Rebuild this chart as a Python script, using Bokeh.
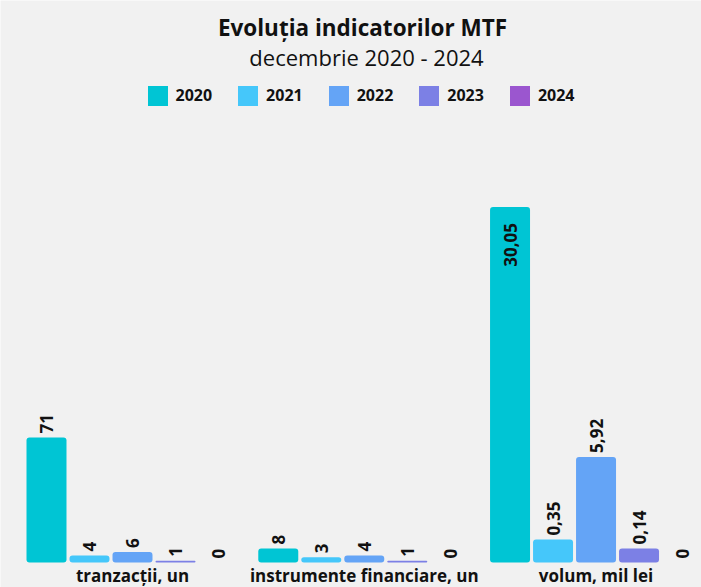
import math
from bokeh.plotting import figure
from bokeh.models import ColumnDataSource, Range1d, Legend, LegendItem, Label
from bokeh.core.properties import value
from bokeh.embed import file_html
from bokeh.resources import INLINE

# ---------------- data ----------------
categories = ["tranzacții, un", "instrumente financiare, un", "volum, mil lei"]
years = ["2020", "2021", "2022", "2023", "2024"]
colors = ["#00C5D4", "#45C7FA", "#64A4F6", "#7C80E5", "#9B56CF"]

# values as labelled on the bars (category order)
values_2020 = [71, 8, 30.05]
values_2021 = [4, 3, 0.35]
values_2022 = [6, 4, 5.92]
values_2023 = [1, 1, 0.14]
values_2024 = [0, 0, 0]

# bar heights as drawn in the picture, on the shared axis
# (the volume bars are not drawn to the same scale as their labels)
heights_2020 = [71, 8, 202]
heights_2021 = [4, 3, 13]
heights_2022 = [6, 4, 60]
heights_2023 = [1, 1, 8]
heights_2024 = [0, 0, 0]

decimal_categories = [False, False, True]

values = [values_2020, values_2021, values_2022, values_2023, values_2024]
heights = [heights_2020, heights_2021, heights_2022, heights_2023, heights_2024]

# ---------------- layout constants ----------------
W, H = 701, 587
slot_px = 43.0
group_gap = 0.39
bar_width = 0.93
x_start = -24.5 / slot_px
px_per_unit = 1.76
baseline_px = 562            # from top of figure
y_end = baseline_px / px_per_unit
y_start = -(H - baseline_px) / px_per_unit
pad = 4 / px_per_unit
inside_pad = 16 / px_per_unit
cat_label_y = -(575 - baseline_px) / px_per_unit

FONT = "Open Sans"
BG = "#f1f1f1"


def fmt(v, dec):
    if v == 0:
        return "0"
    if dec:
        return f"{v:.2f}".replace(".", ",")
    return str(int(v))


def xpos(g, s):
    return g * (5 + group_gap) + s + 0.5


p = figure(width=W, height=H, title=None,
           x_range=Range1d(x_start, x_start + W / slot_px),
           y_range=Range1d(y_start, y_end),
           output_backend="svg", toolbar_location=None,
           x_axis_location=None, y_axis_location=None,
           min_border=0, background_fill_color=BG,
           border_fill_color=BG, outline_line_color=None)
p.grid.visible = False

legend_items = []
lx, ly, lt, la = [], [], [], []
for s, yr in enumerate(years):
    xs = [xpos(g, s) for g in range(len(categories))]
    src = ColumnDataSource(dict(x=xs, top=heights[s]))
    r = p.vbar(x="x", top="top", width=bar_width, source=src,
               fill_color=colors[s], line_color=None, border_radius=3)
    legend_items.append(LegendItem(label=yr, renderers=[r]))
    for g in range(len(categories)):
        h = heights[s][g]
        txt = fmt(values[s][g], decimal_categories[g])
        lx.append(xs[g])
        lt.append(txt)
        if h > 150:
            ly.append(h - inside_pad)
            la.append("right")
        else:
            ly.append(h + pad)
            la.append("left")

lab_src = ColumnDataSource(dict(x=lx, y=ly, text=lt, align=la))
p.text(x="x", y="y", text="text", source=lab_src, angle=math.pi / 2,
       text_align="align", text_baseline="middle",
       text_font=value(FONT), text_font_style="bold",
       text_font_size="17px", text_color="#111111")

group_centers = [xpos(g, 2) for g in range(len(categories))]
p.text(x=group_centers, y=[cat_label_y] * len(categories), text=categories,
       text_align="center", text_baseline="middle",
       text_font=value(FONT), text_font_style="bold",
       text_font_size="17px", text_color="#111111")

legend = Legend(items=legend_items, orientation="horizontal",
                location=(144.5, 479.5), padding=0, margin=0, spacing=23,
                glyph_width=25, glyph_height=25, label_standoff=6,
                label_text_font=FONT, label_text_font_style="bold",
                label_text_font_size="16px", label_text_color="#111111",
                background_fill_alpha=0, border_line_alpha=0)
p.add_layout(legend)

p.add_layout(Label(x=362, y=H - 27, x_units="screen", y_units="screen",
                   text="Evoluția indicatorilor MTF", text_align="center",
                   text_baseline="middle", text_font=FONT,
                   text_font_style="bold", text_font_size="22.5px",
                   text_color="#111111"))
p.add_layout(Label(x=366, y=H - 56.5, x_units="screen", y_units="screen",
                   text="decembrie 2020 - 2024", text_align="center",
                   text_baseline="middle", text_font=FONT,
                   text_font_style="normal", text_font_size="22px",
                   text_color="#111111"))

open("out.html", "w").write(file_html(p, INLINE))
